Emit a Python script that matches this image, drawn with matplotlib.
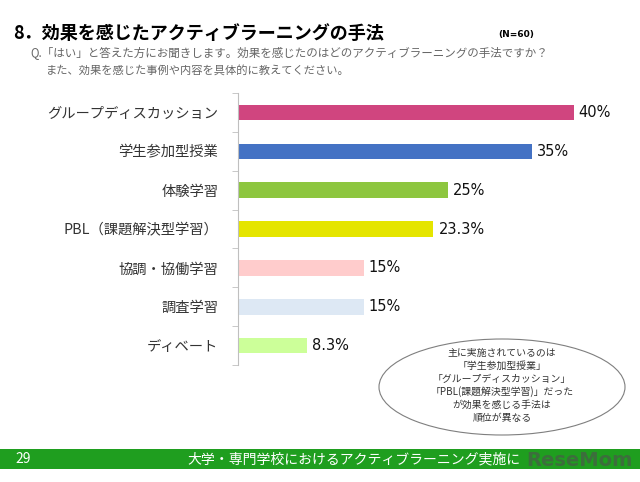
import numpy as np
import matplotlib.pyplot as plt
from matplotlib.patches import Ellipse, Rectangle

plt.rcParams['font.family'] = ['Noto Sans CJK JP', 'DejaVu Sans']

# データ
methods = ['グループディスカッション', '学生参加型授業', '体験学習',
           'PBL（課題解決型学習）', '協調・協働学習', '調査学習', 'ディベート']
values = [40, 35, 25, 23.3, 15, 15, 8.3]
value_labels = ['40%', '35%', '25%', '23.3%', '15%', '15%', '8.3%']
colors = ['#D0457F', '#4472C4', '#8DC63F', '#E5E500', '#FFCCCC', '#DDE8F4', '#CCFF99']

fig = plt.figure(figsize=(6.4, 4.82), dpi=100)
ax = fig.add_axes([0.3714, 0.2427, 0.5906, 0.5643])

y = np.arange(len(methods))
ax.barh(y, values, height=0.4, color=colors)
for yi, v, lab in zip(y, values, value_labels):
    ax.text(v + 0.6, yi, lab, va='center', ha='left', fontsize=10.5,
            family=['DejaVu Sans'], color='#111111')

ax.set_xlim(0, 45)
ax.set_ylim(len(methods) - 0.5, -0.5)
ax.set_yticks(y)
ax.set_yticklabels(methods, fontsize=10.3, color='#333333')
ax.tick_params(axis='y', which='major', length=0, pad=14)
ax.set_yticks(np.arange(len(methods) + 1) - 0.5, minor=True)
ax.tick_params(axis='y', which='minor', length=4, color='#BFBFBF')
ax.set_xticks([])
for s in ['top', 'right', 'bottom']:
    ax.spines[s].set_visible(False)
ax.spines['left'].set_color('#BFBFBF')

# タイトル
fig.text(13/640, 1 - 33/482, '8．効果を感じたアクティブラーニングの手法',
         fontsize=13, fontweight='bold', va='center', ha='left')
fig.text(498/640, 1 - 34/482, '(N=60)', fontsize=6.5, fontweight='bold',
         va='center', ha='left', family=['DejaVu Sans'])
fig.text(30/640, 1 - 53/482,
         'Q.「はい」と答えた方にお聞きします。効果を感じたのはどのアクティブラーニングの手法ですか？',
         fontsize=8.3, color='#666666', va='center', ha='left')
fig.text(46/640, 1 - 70/482, 'また、効果を感じた事例や内容を具体的に教えてください。',
         fontsize=8.1, color='#666666', va='center', ha='left')

# 吹き出し
ell = Ellipse((502/640, 1 - 387/482), 246/640, 96/482, transform=fig.transFigure,
              facecolor='white', edgecolor='#7F7F7F', linewidth=0.8)
fig.patches.append(ell)
note = ['主に実施されているのは', '「学生参加型授業」', '「グループディスカッション」',
        '「PBL(課題解決型学習)」だった', 'が効果を感じる手法は', '順位が異なる']
for i, line in enumerate(note):
    fig.text(502/640, 1 - (353 + i * 13)/482, line, fontsize=7.1, ha='center',
             va='center', color='#333333')

# フッター
fig.patches.append(Rectangle((0, 1 - 469/482), 1, 20/482, transform=fig.transFigure,
                             facecolor='#1F9E1F', edgecolor='none'))
fig.text(15/640, 1 - 459/482, '29', fontsize=10, color='white', va='center', ha='left')
fig.text(187/640, 1 - 459/482, '大学・専門学校におけるアクティブラーニング実施に',
         fontsize=10, color='white', va='center', ha='left')
fig.text(526/640, 1 - 460/482, 'ReseMom', fontsize=14, fontweight='bold',
         color='#3C6E3C', va='center', ha='left', family=['DejaVu Sans'])

fig.savefig('out.png', dpi=100)
